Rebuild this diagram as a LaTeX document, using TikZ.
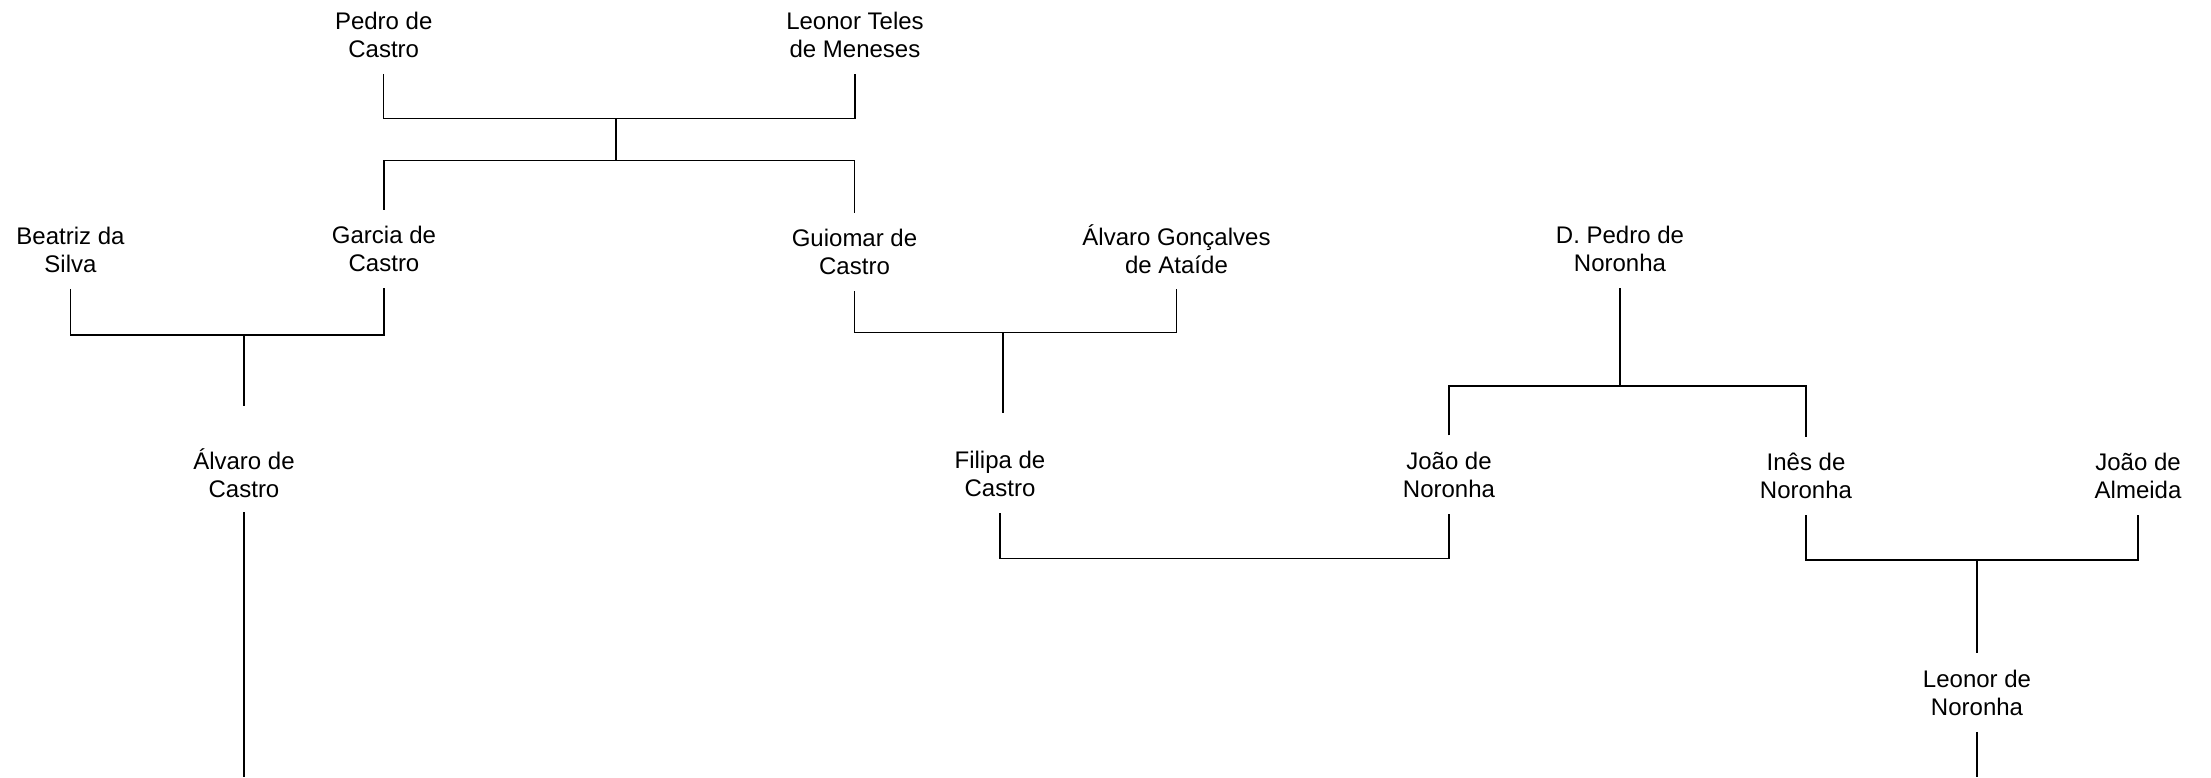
\documentclass[tikz,border=0pt]{standalone}
\usepackage{fontspec}
\setmainfont{Liberation Sans}
\begin{document}
\begin{tikzpicture}[x=0.5pt,y=-0.5pt,
  person/.style={align=center, minimum height=39pt, inner sep=0pt, font=\fontsize{12}{14}\selectfont},
  link/.style={line width=0.6pt}]
\useasboundingbox (0,0) rectangle (2211,777);
% people
\node[person] (pedro)   at (383.7,34.5) {Pedro de\\Castro};
\node[person] (leonor)  at (855,34.5)   {Leonor Teles\\de Meneses};
\node[person] (beatriz) at (70.5,249.5) {Beatriz da\\Silva};
\node[person] (garcia)  at (384,249)    {Garcia de\\Castro};
\node[person] (guiomar) at (854.5,252)  {Guiomar de\\Castro};
\node[person] (ataide)  at (1176.5,249.5) {Álvaro Gonçalves\\de Ataíde};
\node[person] (dpedro)  at (1620,249)   {D. Pedro de\\Noronha};
\node[person] (alvaro)  at (244,473)    {Álvaro de\\Castro};
\node[person] (filipa)  at (1000,474)   {Filipa de\\Castro};
\node[person] (joao)    at (1449,474.7) {João de\\Noronha};
\node[person] (ines)    at (1806,476)   {Inês de\\Noronha};
\node[person] (almeida) at (2138,476)   {João de\\Almeida};
\node[person] (leonorn) at (1977,692.5) {Leonor de\\Noronha};
% junctions and free ends
\coordinate (j1) at (616,118.3);
\coordinate (j2) at (616,160.7);
\coordinate (j3) at (244,335);
\coordinate (a1) at (244,406);
\coordinate (j4) at (1003,332.5);
\coordinate (f1) at (1003,413);
\coordinate (j5) at (1620,386);
\coordinate (j6) at (1225,558.7);
\coordinate (j7) at (1977,560);
\coordinate (a2) at (244,777);
\coordinate (l2) at (1977,777);
% connectors
\draw[link] (pedro.south) -- (pedro.south |- j1) -- (leonor.south |- j1) -- (leonor.south);
\draw[link] (j1) -- (j2);
\draw[link] (garcia.north) -- (garcia.north |- j2) -- (guiomar.north |- j2) -- (guiomar.north);
\draw[link] (beatriz.south) -- (beatriz.south |- j3) -- (garcia.south |- j3) -- (garcia.south);
\draw[link] (j3) -- (a1);
\draw[link] (guiomar.south) -- (guiomar.south |- j4) -- (ataide.south |- j4) -- (ataide.south);
\draw[link] (j4) -- (f1);
\draw[link] (dpedro.south) -- (j5);
\draw[link] (joao.north) -- (joao.north |- j5) -- (ines.north |- j5) -- (ines.north);
\draw[link] (filipa.south) -- (filipa.south |- j6) -- (joao.south |- j6) -- (joao.south);
\draw[link] (ines.south) -- (ines.south |- j7) -- (almeida.south |- j7) -- (almeida.south);
\draw[link] (j7) -- (leonorn.north);
\draw[link] (alvaro.south) -- (a2);
\draw[link] (leonorn.south) -- (l2);
\end{tikzpicture}
\end{document}
